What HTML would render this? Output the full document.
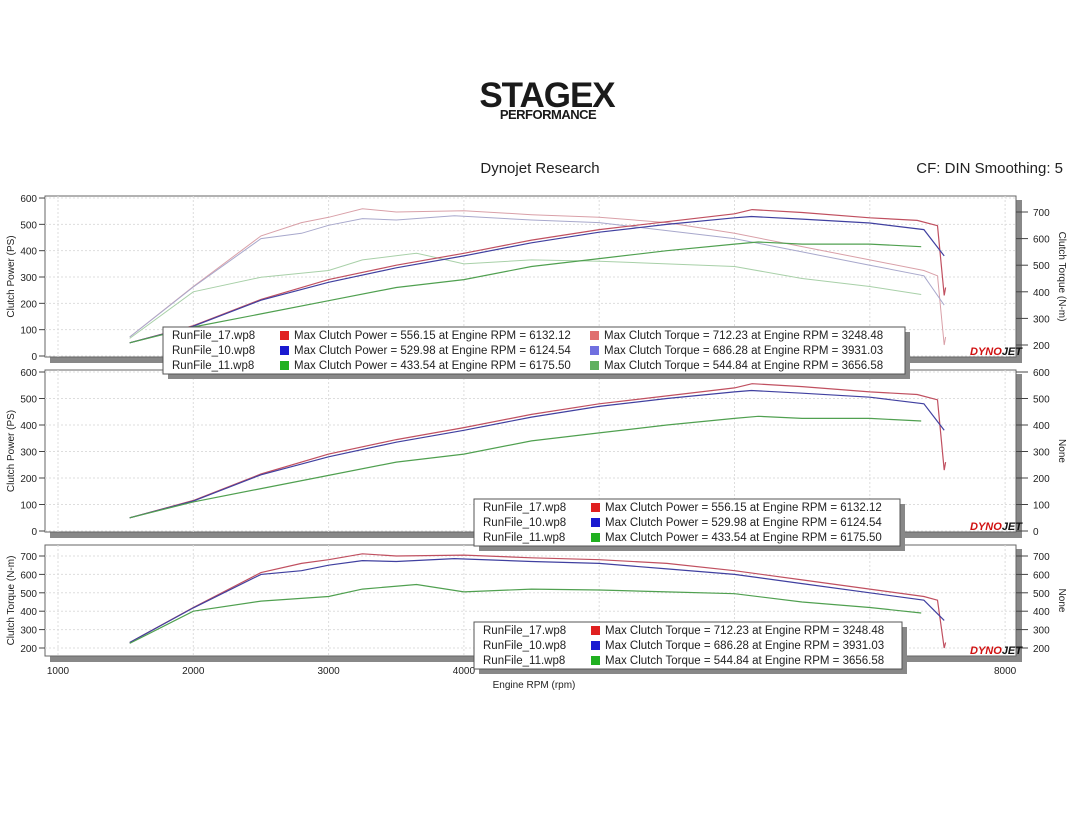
<!DOCTYPE html>
<html><head><meta charset="utf-8"><style>
body{margin:0;background:#fff;width:1080px;height:810px;overflow:hidden;font-family:"Liberation Sans",sans-serif}
</style></head><body>
<svg id="s" width="1080" height="810" xmlns="http://www.w3.org/2000/svg" font-family="Liberation Sans, sans-serif">
<text x="547" y="107" font-size="35" font-weight="bold" text-anchor="middle" fill="#1a1a1a" letter-spacing="-1">STAGEX</text>
<text x="548" y="119" font-size="13" font-weight="bold" text-anchor="middle" fill="#1a1a1a" letter-spacing="-0.5">PERFORMANCE</text>
<text x="540" y="173" font-size="15" text-anchor="middle" fill="#222">Dynojet Research</text>
<text x="1063" y="173" font-size="15" text-anchor="end" fill="#222">CF: DIN Smoothing: 5</text>
<g id="g"></g>
</svg>
<script>
const g=document.getElementById('g');let h='';
const X=r=>58+(r-1000)*0.1353;
function panel(top,bot,yl,yl2,leftTicks,rightTicks,rightLabel,leftLabel){
 h+=`<rect x="50" y="${bot}" width="972" height="6" fill="#888"/><rect x="1016" y="${top+4}" width="6" height="${bot-top}" fill="#888"/>`;
 h+=`<rect x="45" y="${top}" width="971" height="${bot-top}" fill="#fff" stroke="#666"/>`;
 for(let r=1000;r<=8000;r+=1000)h+=`<line x1="${X(r)}" y1="${top}" x2="${X(r)}" y2="${bot}" stroke="#ddd" stroke-dasharray="2,2"/>`;
 leftTicks.forEach(v=>{const y=yl(v);h+=`<line x1="45" y1="${y}" x2="1016" y2="${y}" stroke="#ddd" stroke-dasharray="2,2"/><line x1="39" y1="${y}" x2="45" y2="${y}" stroke="#444"/><text x="37" y="${y+4}" font-size="10" text-anchor="end" fill="#222">${v}</text>`});
 rightTicks.forEach(v=>{const y=yl2(v);h+=`<line x1="1016" y1="${y}" x2="1028" y2="${y}" stroke="#444"/><text x="1033" y="${y+4}" font-size="10" fill="#222">${v}</text>`});
 const cy=(top+bot)/2;
 h+=`<text transform="translate(14,${cy}) rotate(-90)" font-size="10" text-anchor="middle" fill="#222">${leftLabel}</text>`;
 h+=`<text transform="translate(1059,${cy}) rotate(90)" font-size="10" text-anchor="middle" fill="#222">${rightLabel}</text>`;
 h+=`<text x="1022" y="${bot-2}" font-size="11" font-weight="bold" font-style="italic" text-anchor="end" fill="#d01010">DYNO<tspan fill="#111">JET</tspan></text>`;
}
function line(pts,f,col,w){h+=`<polyline fill="none" stroke="${col}" stroke-width="${w||1.2}" points="${pts.map(p=>X(p[0]).toFixed(1)+','+f(p[1]).toFixed(1)).join(' ')}"/>`}
const P1=v=>356-v*0.2633, T1=v=>345-(v-200)*0.266;
const P2=v=>531-v*0.265, T3=v=>648-(v-200)*0.184;
const pR=[[1530,50],[2000,115],[2500,215],[3000,290],[3500,345],[4000,390],[4500,440],[5000,480],[5500,510],[6000,540],[6130,556],[6500,545],[7000,525],[7350,515],[7500,495],[7550,230],[7560,260]];
const pB=[[1530,50],[2000,113],[2500,212],[3000,280],[3500,335],[4000,380],[4500,430],[5000,470],[5500,500],[6000,525],[6124,530],[6500,520],[7000,505],[7400,480],[7550,380]];
const pG=[[1530,50],[2000,110],[2500,160],[3000,210],[3500,260],[4000,290],[4500,340],[5000,370],[5500,400],[6000,425],[6175,433],[6500,425],[7000,425],[7380,415]];
const tR=[[1530,230],[2000,420],[2500,610],[2800,660],[3000,680],[3250,712],[3500,700],[4000,705],[4500,690],[5000,680],[5500,660],[6000,620],[6500,570],[7000,520],[7400,480],[7500,460],[7550,200],[7560,230]];
const tB=[[1530,230],[2000,418],[2500,600],[2800,620],[3000,650],[3250,675],[3500,670],[3930,686],[4500,670],[5000,660],[5500,630],[6000,600],[6500,550],[7000,500],[7400,460],[7550,350]];
const tG=[[1530,225],[2000,400],[2500,455],[3000,480],[3250,520],[3650,545],[4000,505],[4500,520],[5000,515],[5500,505],[6000,495],[6500,450],[7000,420],[7380,390]];
panel(196,357,P1,T1,[0,100,200,300,400,500,600],[200,300,400,500,600,700],'Clutch Torque (N-m)','Clutch Power (PS)');
line(tR,T1,'#d9a0a8',1);line(tB,T1,'#a8a8cc',1);line(tG,T1,'#a8d0a8',1);
line(pR,P1,'#c05060');line(pB,P1,'#4040a0');line(pG,P1,'#50a050');
panel(370,532,P2,P2,[0,100,200,300,400,500,600],[0,100,200,300,400,500,600],'None','Clutch Power (PS)');
line(pR,P2,'#c05060');line(pB,P2,'#4040a0');line(pG,P2,'#50a050');
panel(545,656,T3,T3,[200,300,400,500,600,700],[200,300,400,500,600,700],'None','Clutch Torque (N-m)');
line(tR,T3,'#c05060');line(tB,T3,'#4040a0');line(tG,T3,'#50a050');
for(let r=1000;r<=8000;r+=1000){h+=`<text x="${X(r)}" y="674" font-size="10" text-anchor="middle" fill="#222">${r}</text>`}
h+=`<text x="534" y="688" font-size="10" text-anchor="middle" fill="#222">Engine RPM (rpm)</text>`;
function legend(x,y,w,rows){
 h+=`<rect x="${x+5}" y="${y+5}" width="${w}" height="47" fill="#888"/><rect x="${x}" y="${y}" width="${w}" height="47" fill="#fff" stroke="#555"/>`;
 rows.forEach((r,i)=>{const yy=y+8+i*15;
  h+=`<text x="${x+9}" y="${yy+4}" font-size="11.5" fill="#222">RunFile_${r[0]}.wp8</text>`;
  let cx=x+117;
  r.slice(1).forEach(c=>{h+=`<rect x="${cx}" y="${yy-4}" width="9" height="9" fill="${c[0]}"/><text x="${cx+14}" y="${yy+4}" font-size="11.5" fill="#222">${c[1]}</text>`;cx+=310;});
 });
}
legend(163,327,742,[['17',['#e02020','Max Clutch Power = 556.15 at Engine RPM = 6132.12'],['#e07070','Max Clutch Torque = 712.23 at Engine RPM = 3248.48']],['10',['#1a1ad0','Max Clutch Power = 529.98 at Engine RPM = 6124.54'],['#7070e0','Max Clutch Torque = 686.28 at Engine RPM = 3931.03']],['11',['#20b020','Max Clutch Power = 433.54 at Engine RPM = 6175.50'],['#60b060','Max Clutch Torque = 544.84 at Engine RPM = 3656.58']]]);
legend(474,499,426,[['17',['#e02020','Max Clutch Power = 556.15 at Engine RPM = 6132.12']],['10',['#1a1ad0','Max Clutch Power = 529.98 at Engine RPM = 6124.54']],['11',['#20b020','Max Clutch Power = 433.54 at Engine RPM = 6175.50']]]);
legend(474,622,428,[['17',['#e02020','Max Clutch Torque = 712.23 at Engine RPM = 3248.48']],['10',['#1a1ad0','Max Clutch Torque = 686.28 at Engine RPM = 3931.03']],['11',['#20b020','Max Clutch Torque = 544.84 at Engine RPM = 3656.58']]]);
g.innerHTML=h;
</script>
</body></html>
